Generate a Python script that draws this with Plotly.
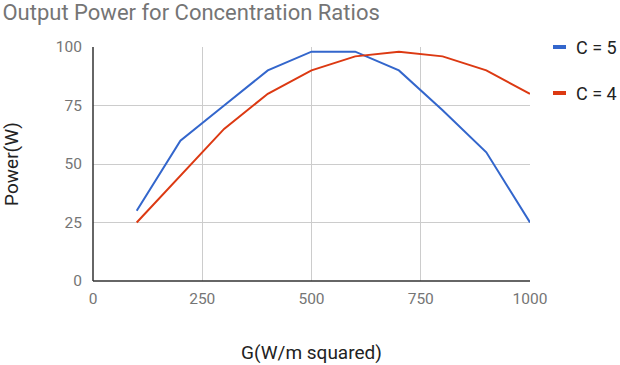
import plotly.graph_objects as go

g_values = [100, 200, 300, 400, 500, 600, 700, 800, 900, 1000]
power_c5 = [30, 60, 75, 90, 98, 98, 90, 73, 55, 25]
power_c4 = [25, 45, 65, 80, 90, 96, 98, 96, 90, 80]
series_names = ["C = 5", "C = 4"]
series_colors = ["#3366cc", "#dc3912"]
x_ticks = [0, 250, 500, 750, 1000]
y_ticks = [0, 25, 50, 75, 100]

fig = go.Figure()
for name, vals, col in zip(series_names, [power_c5, power_c4], series_colors):
    fig.add_trace(go.Scatter(x=g_values, y=vals, mode="lines", name=name,
                             line=dict(color=col, width=2), showlegend=False))

# custom legend
for i, (name, col) in enumerate(zip(series_names, series_colors)):
    ypos = 47 + i * 46
    fig.add_shape(type="line", xref="paper", yref="paper",
                  x0=(553 - 93) / 437, x1=(566 - 93) / 437,
                  y0=(281 - ypos) / 234, y1=(281 - ypos) / 234,
                  line=dict(color=col, width=4))
    fig.add_annotation(text=name, xref="paper", yref="paper",
                       x=(574 - 93) / 437, y=(281 - ypos) / 234,
                       xanchor="left", yanchor="middle", showarrow=False,
                       font=dict(size=18, color="#222222"))

fig.update_layout(
    width=620, height=365,
    margin=dict(l=93, r=90, t=47, b=84, autoexpand=False),
    paper_bgcolor="white", plot_bgcolor="white",
    font=dict(family="Roboto", color="#444444"),
    title=dict(text="Output Power for Concentration Ratios", x=0.004, xanchor="left",
               y=0.967, yanchor="middle", automargin=False,
               font=dict(size=22, color="#757575")),
    xaxis=dict(range=[0, 1000], tickvals=x_ticks, showgrid=True, gridcolor="#cccccc",
               zeroline=False, showline=False, ticks="", automargin=False,
               ticklabelstandoff=6,
               tickfont=dict(size=15.5, color="#757575"),
               title=dict(text="G(W/m squared)", font=dict(size=19, color="#222222"), standoff=39)),
    yaxis=dict(range=[0, 100], tickvals=y_ticks, showgrid=True, gridcolor="#cccccc",
               zeroline=False, showline=False, ticks="", automargin=False,
               ticklabelstandoff=10,
               tickfont=dict(size=15.5, color="#757575"),
               title=dict(text="Power(W)", font=dict(size=19, color="#222222"), standoff=32)),
)
# axis baselines
fig.add_shape(type="line", xref="paper", yref="paper", x0=0, x1=1, y0=0, y1=0,
              line=dict(color="#333333", width=1.5))
fig.add_shape(type="line", xref="paper", yref="paper", x0=0, x1=0, y0=0, y1=1,
              line=dict(color="#333333", width=1.5))

fig.write_html("out.html", post_script="document.body.style.margin='0';",
               config={"displayModeBar": False})
